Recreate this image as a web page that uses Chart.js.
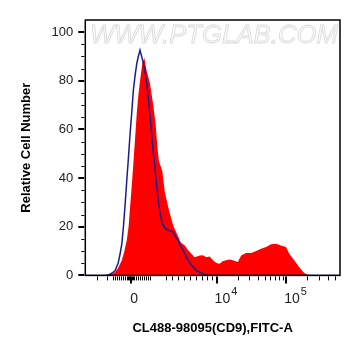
<!DOCTYPE html>
<html>
<head>
<meta charset="utf-8">
<script src="https://cdn.jsdelivr.net/npm/chart.js@4/dist/chart.umd.min.js"></script>
<style>
	html, body { margin: 0; padding: 0; background: #fff; }
	#wrap { width: 361px; height: 356px; }
</style>
</head>
<body>
<div id="wrap"><canvas id="c"></canvas></div>
<script>
// x values are display channels (0..256) of the biexponential FITC axis
var stainedX = [0, 20, 26, 30, 33, 36.7, 39, 41.7, 43.5, 45, 46.7, 48.3, 50, 51.7, 53.3, 55, 57.3, 59.3, 61.7, 65, 68.3, 70.7, 72.7, 74, 77.3, 80, 84, 88.3, 93.3, 96, 100, 103, 105, 110, 115, 118, 121.7, 125, 128.3, 131.7, 135, 138, 141.7, 145, 148.3, 153.3, 156.7, 161.7, 166.7, 171.7, 176.7, 181.7, 186.7, 191.7, 196.7, 201.7, 205, 210, 215, 220, 225, 256];
var stainedY = [0, 0, 0.5, 1.4, 3, 6.2, 9.5, 14.4, 20, 28, 37, 46, 56, 66.6, 74, 80, 87, 89.5, 84, 79, 70, 62, 52, 47, 43, 34, 27, 20.5, 16, 13.5, 12.3, 10.5, 9.6, 7.5, 8.2, 8.3, 7.5, 7.8, 6.2, 5.1, 4.8, 5.8, 6.2, 6.5, 6.2, 5.5, 8.2, 9.2, 9.2, 10, 11, 11.7, 12.8, 13, 12.3, 11.7, 8.9, 6.2, 3.4, 1, 0, 0];

var controlX = [0, 20, 24, 27, 30, 33, 35, 36.7, 38.3, 40, 41.7, 43.3, 45, 46.7, 48.3, 50, 51.7, 53.3, 55, 57.3, 60, 61.7, 63.3, 65, 66.7, 68.3, 70, 71.7, 73.3, 75, 77.3, 80, 83.3, 86, 88.3, 90.7, 93.3, 95.7, 98.3, 101, 103.3, 106.7, 110, 113, 116.7, 120, 123.3, 256];
var controlY = [0, 0, 0.3, 1, 2, 5, 8.9, 13, 19.9, 29, 39, 48, 58, 67, 76, 82, 87, 90, 92.6, 89, 84, 79, 73, 66, 58, 51, 44.6, 37, 31, 26, 21.4, 19.5, 18.5, 18.3, 17.8, 16, 14.4, 12.3, 10.3, 8, 6.2, 4.3, 2.7, 1.7, 1, 0.4, 0, 0];

var yTicks = [0, 20, 40, 60, 80, 100];
var yMinor = [5, 10, 15, 25, 30, 35, 45, 50, 55, 65, 70, 75, 85, 90, 95];

var xMajor = [46, 132, 202];
var xLabels = [["0", ""], ["10", "4"], ["10", "5"]];
var xMinor = [12, 22, 28, 30, 32, 34, 36, 38, 40, 42, 43, 44, 45, 47, 48, 49, 51, 53, 55, 57, 59, 61, 63, 65,
	81, 87, 93, 99, 105, 111, 117, 122, 127,
	153, 165, 174, 181, 186, 191, 195, 199,
	223, 235, 244, 251];

function toPoints(xs, ys) {
	return xs.map(function(x, i) { return {x: x, y: ys[i]}; });
}

var FONT = "'Liberation Sans', Arial, sans-serif";

var decorations = {
	id: 'decorations',
	beforeDatasetsDraw: function(chart) {
		var ctx = chart.ctx;
		ctx.save();
		ctx.font = 'italic 25px ' + FONT;
		var text = 'WWW.PTGLAB.COM';
		var w = ctx.measureText(text).width;
		ctx.translate(90, 43);
		ctx.scale(248 / w, 1);
		ctx.fillStyle = '#fafafa';
		ctx.strokeStyle = '#dadada';
		ctx.lineWidth = 0.8;
		ctx.fillText(text, 0, 0);
		ctx.strokeText(text, 0, 0);
		ctx.restore();
	},
	afterDraw: function(chart) {
		var ctx = chart.ctx, a = chart.chartArea;
		var xs = chart.scales.x, ys = chart.scales.y;
		ctx.save();
		ctx.strokeStyle = '#000';

		function tick(x1, y1, x2, y2, w) {
			ctx.lineWidth = w;
			ctx.beginPath();
			ctx.moveTo(x1, y1);
			ctx.lineTo(x2, y2);
			ctx.stroke();
		}

		xMinor.forEach(function(v) {
			var p = Math.round(xs.getPixelForValue(v)) + 0.5;
			tick(p, a.bottom + 1, p, a.bottom + 5, 1);
		});
		xMajor.forEach(function(v) {
			var p = Math.round(xs.getPixelForValue(v));
			tick(p, a.bottom + 1, p, a.bottom + 8, 2);
		});
		yMinor.forEach(function(v) {
			var p = Math.round(ys.getPixelForValue(v)) + 0.5;
			tick(a.left - 4, p, a.left - 1, p, 1);
		});
		yTicks.forEach(function(v) {
			var p = Math.round(ys.getPixelForValue(v));
			tick(a.left - 7, p, a.left - 1, p, 2);
		});

		// frame
		ctx.lineWidth = 1.5;
		ctx.strokeRect(a.left, a.top, a.right - a.left, a.bottom - a.top);

		// x tick labels with raised exponents
		ctx.fillStyle = '#222';
		ctx.textBaseline = 'alphabetic';
		xMajor.forEach(function(v, i) {
			var p = xs.getPixelForValue(v);
			var base = xLabels[i][0], exp = xLabels[i][1];
			ctx.font = '14px ' + FONT;
			if (!exp) {
				ctx.textAlign = 'center';
				ctx.fillText(base, p + 3, 302.5);
				return;
			}
			ctx.textAlign = 'left';
			var bw = ctx.measureText(base).width;
			ctx.fillText(base, p - 2, 302.5);
			ctx.font = '11px ' + FONT;
			ctx.fillText(exp, p - 2 + bw + 1, 294.5);
		});
		ctx.restore();
	}
};

var ctx = document.getElementById('c').getContext('2d');

var chart = new Chart(ctx, {
	type: 'line',
	data: {
		datasets: [
			{
				label: 'Unstained control',
				data: toPoints(controlX, controlY),
				borderColor: '#1c1c8f',
				borderWidth: 1.5,
				pointRadius: 0,
				fill: false,
				tension: 0,
				order: 0
			},
			{
				label: 'CL488-98095(CD9)',
				data: toPoints(stainedX, stainedY),
				borderColor: '#ff0000',
				backgroundColor: '#ff0000',
				borderWidth: 0,
				pointRadius: 0,
				fill: {target: {value: 0}},
				tension: 0,
				order: 1
			}
		]
	},
	options: {
		responsive: true,
		maintainAspectRatio: false,
		animation: false,
		layout: {
			padding: {top: 20, right: 21, left: 15, bottom: 10}
		},
		plugins: {
			legend: { display: false },
			tooltip: { enabled: false }
		},
		scales: {
			x: {
				type: 'linear',
				min: 0,
				max: 256,
				grid: { display: false, drawTicks: false },
				border: { display: false },
				ticks: { display: false },
				title: {
					display: true,
					text: 'CL488-98095(CD9),FITC-A',
					color: '#000',
					font: { family: FONT, size: 13, weight: 'bold' },
					padding: { top: 45, bottom: 10 }
				}
			},
			y: {
				min: 0,
				max: 105,
				afterBuildTicks: function(scale) {
					scale.ticks = yTicks.map(function(v) { return {value: v}; });
				},
				grid: { display: false, drawTicks: false },
				border: { display: false },
				ticks: {
					color: '#222',
					padding: 12,
					font: { family: FONT, size: 13 }
				},
				title: {
					display: true,
					text: 'Relative Cell Number',
					color: '#000',
					font: { family: FONT, size: 13, weight: 'bold' },
					padding: { top: 4, bottom: 5 }
				}
			}
		}
	},
	plugins: [decorations]
});
</script>
</body>
</html>
